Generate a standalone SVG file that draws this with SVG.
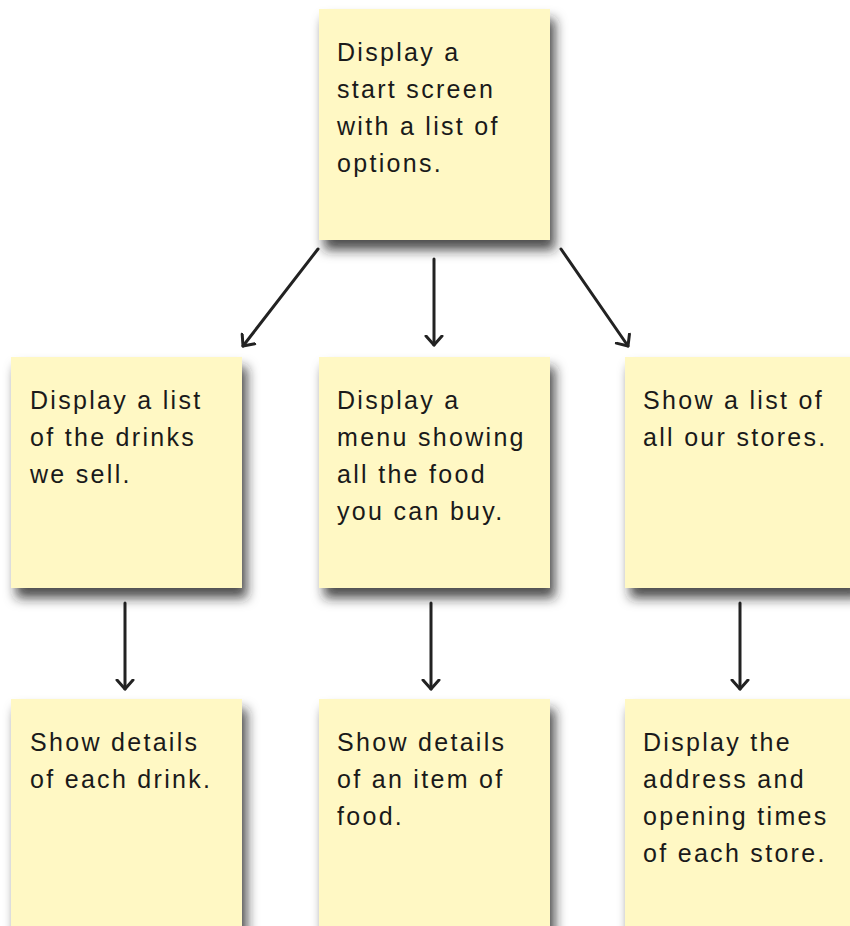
<svg xmlns="http://www.w3.org/2000/svg" width="850" height="926" viewBox="0 0 850 926">
<defs>
<filter id="sh" x="-20%" y="-20%" width="150%" height="150%">
<feDropShadow dx="5" dy="10" stdDeviation="6" flood-color="#222" flood-opacity="0.8"/>
</filter>
<marker id="ah" viewBox="0 0 20 20" refX="10" refY="10" markerWidth="20" markerHeight="20" markerUnits="userSpaceOnUse" orient="auto">
<path d="M1,2 L10,10 L1,18" fill="none" stroke="#222" stroke-width="3" stroke-linecap="round" stroke-linejoin="round"/>
</marker>
</defs>
<style>
.note{fill:#FFF8C4;filter:url(#sh);}
.t{font-family:"Liberation Sans",Arial,sans-serif;font-size:25px;letter-spacing:2.3px;fill:#1a1a1a;}
.c{stroke:#222;stroke-width:3;fill:none;stroke-linecap:round;marker-end:url(#ah);}
</style>
<rect width="850" height="926" fill="#fff"/>
<g id="connectors">
<line class="c" x1="318" y1="249" x2="243" y2="346"/>
<line class="c" x1="434" y1="259" x2="434" y2="345"/>
<line class="c" x1="561" y1="249" x2="628" y2="346"/>
<line class="c" x1="125" y1="603" x2="125" y2="689"/>
<line class="c" x1="431" y1="603" x2="431" y2="689"/>
<line class="c" x1="740" y1="603" x2="740" y2="689"/>
</g>
<g id="n-start">
<rect class="note" x="319" y="9" width="231" height="231"/>
<text class="t"><tspan x="337" y="61">Display a</tspan><tspan x="337" y="98">start screen</tspan><tspan x="337" y="135">with a list of</tspan><tspan x="337" y="172">options.</tspan></text>
</g>
<g id="n-drinks">
<rect class="note" x="11" y="357" width="231" height="231"/>
<text class="t"><tspan x="30" y="409">Display a list</tspan><tspan x="30" y="446">of the drinks</tspan><tspan x="30" y="483">we sell.</tspan></text>
</g>
<g id="n-food">
<rect class="note" x="319" y="357" width="231" height="231"/>
<text class="t"><tspan x="337" y="409">Display a</tspan><tspan x="337" y="446">menu showing</tspan><tspan x="337" y="483">all the food</tspan><tspan x="337" y="520">you can buy.</tspan></text>
</g>
<g id="n-stores">
<rect class="note" x="625" y="357" width="231" height="231"/>
<text class="t"><tspan x="643" y="409">Show a list of</tspan><tspan x="643" y="446">all our stores.</tspan></text>
</g>
<g id="n-drink-detail">
<rect class="note" x="11" y="699" width="231" height="240"/>
<text class="t"><tspan x="30" y="751">Show details</tspan><tspan x="30" y="788">of each drink.</tspan></text>
</g>
<g id="n-food-detail">
<rect class="note" x="319" y="699" width="231" height="240"/>
<text class="t"><tspan x="337" y="751">Show details</tspan><tspan x="337" y="788">of an item of</tspan><tspan x="337" y="825">food.</tspan></text>
</g>
<g id="n-store-detail">
<rect class="note" x="625" y="699" width="231" height="240"/>
<text class="t"><tspan x="643" y="751">Display the</tspan><tspan x="643" y="788">address and</tspan><tspan x="643" y="825">opening times</tspan><tspan x="643" y="862">of each store.</tspan></text>
</g>
</svg>
